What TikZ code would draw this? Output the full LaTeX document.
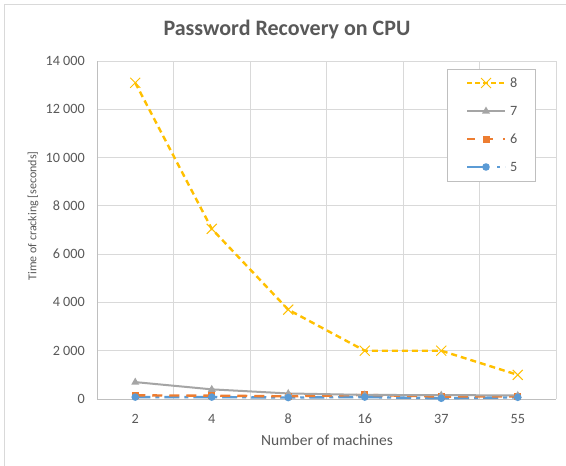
\documentclass[tikz,border=0pt]{standalone}
\usepackage{fontspec}
\setmainfont{Carlito}
\usetikzlibrary{calc}
\begin{document}
\begin{tikzpicture}[x=1pt,y=-1pt]
\definecolor{txt}{HTML}{595959}
\definecolor{grid}{HTML}{D9D9D9}
\definecolor{axis}{HTML}{BFBFBF}
\definecolor{cy}{HTML}{FFC000}
\definecolor{cg}{HTML}{A5A5A5}
\definecolor{co}{HTML}{ED7D31}
\definecolor{cb}{HTML}{5B9BD5}
\tikzset{
  ticklbl/.style={text=txt,font=\fontsize{14.2}{16}\selectfont,inner sep=0pt},
  axtitle/.style={text=txt,font=\fontsize{15.5}{17}\selectfont,inner sep=0pt},
  ytitle/.style={text=txt,font=\fontsize{12}{14}\selectfont,inner sep=0pt},
  gridline/.style={draw=grid,line width=1pt},
  s8/.style={draw=cy,line width=2.4pt,dash pattern=on 6pt off 4pt},
  s7/.style={draw=cg,line width=2pt},
  s6/.style={draw=co,line width=2.4pt,dash pattern=on 10pt off 7pt},
  s5/.style={draw=cb,line width=2.4pt,dash pattern=on 15pt off 5pt on 4pt off 5pt},
  mx/.style={draw=cy,line width=1pt},
}
\useasboundingbox (0,0) rectangle (566,466);
\fill[white] (0,0) rectangle (566,466);
\draw[grid,line width=1pt] (4,470) -- (4,4) -- (570,4);
% title
\node[text=txt,font=\fontsize{22}{25}\bfseries\selectfont,inner sep=0pt] (title) at (287,30) {Password Recovery on CPU};
% grid
\foreach \i in {1,...,7} {\draw[gridline] (97,{399-48.2857*\i}) -- (556,{399-48.2857*\i});}
\foreach \i in {1,...,6} {\draw[gridline] ({97+76.5*\i},61) -- ({97+76.5*\i},399);}
\draw[axis,line width=1pt] (97,61) -- (97,399) -- (556,399);
% y labels
\foreach \v/\t in {0/0,1/2 000,2/4 000,3/6 000,4/8 000,5/10 000,6/12 000,7/14 000} {
  \node[ticklbl,anchor=east] (yl\v) at (85,{399-48.2857*\v}) {\t};
}
% x labels
\foreach \k/\t in {0/2,1/4,2/8,3/16,4/37,5/55} {
  \node[ticklbl] (xl\k) at ({135.25+76.5*\k},419) {\t};
}
\node[axtitle] (xt) at (327,440) {Number of machines};
\node[ytitle,rotate=90] (yt) at (33,216) {Time of cracking [seconds]};
% data coordinates
\foreach \s/\vals in {8/{13100,7050,3700,2000,2000,1000},7/{700,400,230,170,160,150},6/{150,140,110,170,100,110},5/{80,80,60,80,30,70}} {
  \foreach \v [count=\k from 0] in \vals {
    \coordinate (p\s-\k) at ({135.25+76.5*\k},{399-0.0241429*\v});
  }
}
% series 5 (blue)
\draw[s5] (p5-0) -- (p5-1) -- (p5-2) -- (p5-3) -- (p5-4) -- (p5-5);
% series 6 (orange)
\draw[s6] (p6-0) -- (p6-1) -- (p6-2) -- (p6-3) -- (p6-4) -- (p6-5);
% series 7 (gray)
\draw[s7] (p7-0) -- (p7-1) -- (p7-2) -- (p7-3) -- (p7-4) -- (p7-5);
% series 8 (yellow)
\draw[s8] (p8-0) -- (p8-1) -- (p8-2) -- (p8-3) -- (p8-4) -- (p8-5);
% markers
\foreach \k in {0,...,5} {
  \fill[co] ($(p6-\k)+(-3.5,-3.5)$) rectangle ($(p6-\k)+(3.5,3.5)$);
  \fill[cg] ($(p7-\k)+(0,-4.5)$) -- ($(p7-\k)+(4,2.5)$) -- ($(p7-\k)+(-4,2.5)$) -- cycle;
  \fill[cb] (p5-\k) circle (3.8);
  \draw[mx] ($(p8-\k)+(-5,-5)$) -- ($(p8-\k)+(5,5)$) ($(p8-\k)+(-5,5)$) -- ($(p8-\k)+(5,-5)$);
}
% legend
\draw[axis,line width=1pt,fill=white] (447,69) rectangle (535,181);
\foreach \s/\y in {8/83,7/111,6/139,5/167} {
  \coordinate (la\s) at (467,\y);
  \coordinate (lb\s) at (505,\y);
  \coordinate (lm\s) at (486,\y);
  \node[ticklbl,anchor=west] (ll\s) at (510,\y) {\s};
}
\draw[s8,dash pattern=on 5pt off 3pt] (la8) -- (lb8);
\draw[mx] ($(lm8)+(-5,-5)$) -- ($(lm8)+(5,5)$) ($(lm8)+(-5,5)$) -- ($(lm8)+(5,-5)$);
\draw[s7] (la7) -- (lb7);
\fill[cg] ($(lm7)+(0,-4.5)$) -- ($(lm7)+(4,2.5)$) -- ($(lm7)+(-4,2.5)$) -- cycle;
\draw[s6,dash pattern=on 8pt off 10pt] (la6) -- (lb6);
\fill[co] ($(lm6)+(-3.5,-3.5)$) rectangle ($(lm6)+(3.5,3.5)$);
\draw[s5,dash pattern=on 20pt off 10pt on 3pt off 5pt] (la5) -- (lb5);
\fill[cb] (lm5) circle (3.8);
\end{tikzpicture}
\end{document}
